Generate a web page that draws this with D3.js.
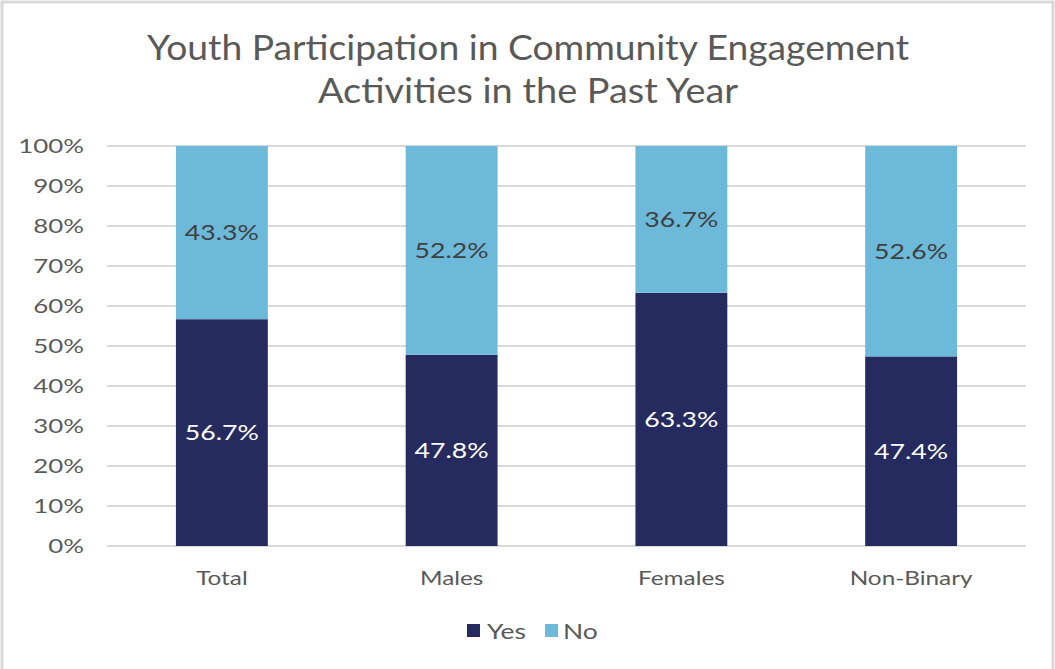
<!DOCTYPE html>
<html>
<head>
<meta charset="utf-8">
<script src="https://cdn.jsdelivr.net/npm/d3@7"></script>
<style>
  html, body { margin: 0; padding: 0; background: #ffffff; }
  svg { display: block; }
</style>
</head>
<body>
<svg id="chart" width="1055" height="669"></svg>
<script>
// Survey results: share of youth who took part in community engagement activities
const categories = ["Total", "Males", "Females", "Non-Binary"];
const yesValues = [56.7, 47.8, 63.3, 47.4];
const noValues = [43.3, 52.2, 36.7, 52.6];
const seriesNames = ["Yes", "No"];
const yTicks = [0, 10, 20, 30, 40, 50, 60, 70, 80, 90, 100];
const titleLines = ["Youth Participation in Community Engagement", "Activities in the Past Year"];

const colors = { Yes: "#262b5f", No: "#6cb9da" };
const textColor = "#595959";
const font = "'Century Gothic', 'Lato', 'DejaVu Sans', sans-serif";

// widen text horizontally to mimic a wide geometric face
function widen(sel, factor) {
  sel.each(function () {
    const w = this.getComputedTextLength();
    d3.select(this)
      .attr("textLength", w * factor)
      .attr("lengthAdjust", "spacingAndGlyphs");
  });
}

const svg = d3.select("#chart");
const W = 1055, H = 669;

// outer frame
svg.append("rect")
  .attr("x", 2).attr("y", 2)
  .attr("width", W - 4).attr("height", H + 10)
  .attr("fill", "#ffffff")
  .attr("stroke", "#d9d9d9").attr("stroke-width", 3);

const plot = { left: 107, right: 1026, top: 146, bottom: 546 };

const x = d3.scaleBand()
  .domain(categories)
  .range([plot.left, plot.right])
  .paddingInner(0.6).paddingOuter(0.3);

const y = d3.scaleLinear().domain([0, 100]).range([plot.bottom, plot.top]);

// title
const title = svg.append("g");
const titleWidths = [762, 420];
titleLines.forEach((t, i) => {
  title.append("text")
    .attr("x", 528).attr("y", 60 + i * 43)
    .attr("text-anchor", "middle")
    .attr("font-family", font)
    .attr("font-size", 34)
    .attr("fill", textColor)
    .attr("textLength", titleWidths[i])
    .attr("lengthAdjust", "spacingAndGlyphs")
    .text(t);
});

// gridlines
svg.append("g")
  .selectAll("line")
  .data(yTicks)
  .join("line")
  .attr("x1", plot.left).attr("x2", plot.right)
  .attr("y1", d => y(d)).attr("y2", d => y(d))
  .attr("stroke", "#d9d9d9").attr("stroke-width", 2);

// y axis labels
const yAxis = d3.axisLeft(y).tickValues(yTicks).tickFormat(d => d + "%").tickSize(0).tickPadding(0);
const yAxisG = svg.append("g")
  .attr("transform", `translate(84,0)`)
  .call(yAxis);
yAxisG.select(".domain").remove();
yAxisG.selectAll("text")
  .attr("font-family", font)
  .attr("font-size", 19)
  .attr("fill", textColor)
  .call(widen, 1.36);

// stacked data
const rows = categories.map((c, i) => ({ category: c, Yes: yesValues[i], No: noValues[i] }));
const stacked = d3.stack().keys(seriesNames)(rows);

const layers = svg.append("g")
  .selectAll("g")
  .data(stacked)
  .join("g")
  .attr("fill", d => colors[d.key]);

layers.selectAll("rect")
  .data(d => d)
  .join("rect")
  .attr("x", d => x(d.data.category))
  .attr("width", x.bandwidth())
  .attr("y", d => y(d[1]))
  .attr("height", d => y(d[0]) - y(d[1]));

// value labels centred in each segment
svg.append("g")
  .selectAll("g")
  .data(stacked)
  .join("g")
  .attr("fill", d => d.key === "Yes" ? "#ffffff" : "#404040")
  .selectAll("text")
  .data(d => d)
  .join("text")
  .attr("x", d => x(d.data.category) + x.bandwidth() / 2)
  .attr("y", d => y((d[0] + d[1]) / 2))
  .attr("dy", "0.36em")
  .attr("text-anchor", "middle")
  .attr("font-family", font)
  .attr("font-size", 21)
  .text(d => (d[1] - d[0]).toFixed(1) + "%")
  .call(widen, 1.27);

// category axis
const xAxis = d3.axisBottom(x).tickSize(0).tickPadding(0);
const xAxisG = svg.append("g")
  .attr("transform", `translate(0,${plot.bottom + 39})`)
  .call(xAxis);
xAxisG.select(".domain").remove();
xAxisG.selectAll("text")
  .attr("dy", 0)
  .attr("font-family", font)
  .attr("font-size", 19)
  .attr("fill", textColor)
  .call(widen, 1.28);

// legend
const legendItems = [
  { key: "Yes", sx: 467, tx: 487 },
  { key: "No", sx: 545, tx: 563 }
];
const legend = svg.append("g");
legendItems.forEach(it => {
  legend.append("rect")
    .attr("x", it.sx).attr("y", 624)
    .attr("width", 13).attr("height", 13)
    .attr("fill", colors[it.key]);
  legend.append("text")
    .attr("x", it.tx).attr("y", 639)
    .attr("font-family", font)
    .attr("font-size", 22)
    .attr("fill", textColor)
    .text(it.key)
    .call(widen, 1.2);
});
</script>
</body>
</html>
